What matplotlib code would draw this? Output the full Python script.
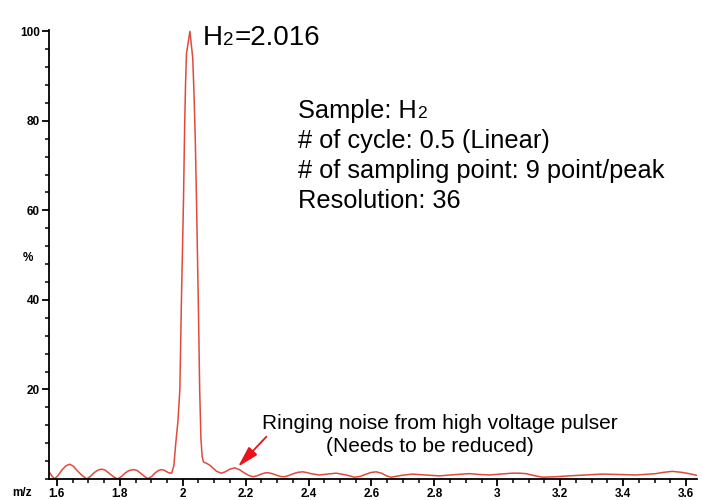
import matplotlib.pyplot as plt
from matplotlib.ticker import MultipleLocator

plt.rcParams['font.family'] = ['Liberation Sans', 'DejaVu Sans']

# spectrum (m/z, %)
mz = [1.575, 1.583, 1.592, 1.604, 1.616, 1.628, 1.640, 1.652, 1.664, 1.680,
      1.695, 1.707, 1.720, 1.731, 1.742, 1.753, 1.766, 1.780, 1.793, 1.806,
      1.818, 1.830, 1.843, 1.855, 1.868, 1.880, 1.890, 1.902, 1.913, 1.923,
      1.933, 1.943, 1.955, 1.965, 1.972, 1.978,
      1.985, 1.991, 1.996, 2.0025, 2.006, 2.009, 2.012, 2.023,
      2.032, 2.036, 2.040, 2.044, 2.047, 2.050, 2.054, 2.058, 2.062, 2.066,
      2.076, 2.088, 2.097, 2.108, 2.123, 2.135, 2.150, 2.165, 2.180, 2.195,
      2.210, 2.224, 2.236, 2.250, 2.261, 2.271, 2.285, 2.300, 2.312, 2.324,
      2.338, 2.352, 2.367, 2.382, 2.397, 2.410, 2.435, 2.460, 2.488, 2.520,
      2.546, 2.565, 2.580, 2.598, 2.615, 2.632, 2.648, 2.663, 2.695, 2.730,
      2.770, 2.816, 2.860, 2.911, 2.945, 2.975, 3.010, 3.048, 3.070, 3.091,
      3.115, 3.143, 3.185, 3.229, 3.280, 3.334, 3.390, 3.440, 3.475, 3.504,
      3.530, 3.556, 3.585, 3.610, 3.635]
pct = [1.6, 0.8, 0.0, 0.8, 2.0, 2.9, 3.3, 2.9, 1.9, 0.8,
       0.0, 0.6, 1.5, 2.0, 2.2, 2.0, 1.3, 0.5, 0.0, 0.6,
       1.4, 1.9, 2.1, 1.9, 1.2, 0.5, 0.1, 0.6, 1.4, 1.9,
       2.1, 1.9, 1.4, 1.3, 3.0, 8.0,
       13.0, 20.0, 40.0, 62.0, 78.0, 88.0, 95.0, 100.0,
       94.0, 86.0, 76.0, 62.0, 50.0, 38.0, 20.0, 9.0, 5.0, 3.8,
       3.5, 3.0, 2.4, 1.7, 1.3, 1.6, 2.2, 2.5, 2.1, 1.4,
       0.8, 0.5, 0.7, 1.1, 1.35, 1.4, 1.2, 0.8, 0.55, 0.5,
       0.8, 1.2, 1.5, 1.6, 1.4, 1.15, 0.9, 1.1, 1.3, 0.9,
       0.4, 0.6, 1.0, 1.45, 1.6, 1.3, 0.7, 0.4, 0.8, 1.1,
       0.9, 0.7, 0.95, 1.2, 1.0, 0.9, 1.1, 1.3, 1.3, 1.2,
       0.8, 0.4, 0.5, 0.7, 0.9, 1.1, 1.0, 0.9, 1.05, 1.2,
       1.5, 1.7, 1.5, 1.2, 0.8]

xticks = [1.6, 1.8, 2.0, 2.2, 2.4, 2.6, 2.8, 3.0, 3.2, 3.4, 3.6]
xlabels = ['1.6', '1.8', '2', '2.2', '2.4', '2.6', '2.8', '3', '3.2', '3.4', '3.6']
yticks = [20, 40, 60, 80, 100]

W, H = 703, 500
fig = plt.figure(figsize=(W / 100, H / 100), dpi=100)
ax = fig.add_axes([49 / W, 21 / H, 648 / W, 449 / H])
ax.plot(mz, pct, color='#e04a3c', lw=1.1)

ax.set_xlim(1.575, 3.635)
ax.set_ylim(0, 100.3)
ax.set_xticks(xticks)
ax.set_xticklabels(xlabels)
ax.set_yticks(yticks)
ax.xaxis.set_minor_locator(MultipleLocator(0.05))
ax.yaxis.set_minor_locator(MultipleLocator(4))
for s in ['top', 'right']:
    ax.spines[s].set_visible(False)
for s in ['left', 'bottom']:
    ax.spines[s].set_linewidth(1.3)
ax.tick_params(which='major', direction='out', length=5, width=1.3,
               labelsize=8.5, pad=1.5, color='black')
ax.tick_params(which='minor', direction='out', length=3.2, width=1.1, color='black')
for lab in ax.get_xticklabels() + ax.get_yticklabels():
    lab.set_fontweight('bold')


def ptext(x, y, s, **kw):
    # place text by pixel position of the reference (y from top)
    return fig.text(x / W, 1 - y / H, s, **kw)


ptext(12, 493, 'm/z', fontsize=8.5, fontweight='bold', va='center')
ptext(23, 258, '%', fontsize=8.5, fontweight='bold', va='center')

renderer = fig.canvas.get_renderer()

# H2=2.016 label, subscript drawn as a smaller digit on the baseline
h = ptext(203, 45, 'H', fontsize=20, va='baseline')
x1 = h.get_window_extent(renderer).x1
s2 = fig.text((x1 + 0.5) / W, 1 - 45 / H, '2', fontsize=13.5, va='baseline')
x2 = s2.get_window_extent(renderer).x1
fig.text((x2 + 0.5) / W, 1 - 45 / H, '=2.016', fontsize=20, va='baseline')

info = ['Sample: H', '# of cycle: 0.5 (Linear)',
        '# of sampling point: 9 point/peak', 'Resolution: 36']
for i, line in enumerate(info):
    t = ptext(298, 118 + 30 * i, line, fontsize=18.3, va='baseline')
    if i == 0:
        xs = t.get_window_extent(renderer).x1
        fig.text((xs + 0.5) / W, 1 - 118 / H, '2', fontsize=12.5, va='baseline')

ptext(262, 429, 'Ringing noise from high voltage pulser', fontsize=15, va='baseline')
ptext(326, 451.5, '(Needs to be reduced)', fontsize=15, va='baseline')
ax.annotate('', xy=(2.176, 2.75), xytext=(2.266, 9.45),
            arrowprops=dict(arrowstyle='-|>,head_length=0.8,head_width=0.22',
                            color='#e8141c', lw=1.3, mutation_scale=16,
                            shrinkA=0, shrinkB=0))

fig.savefig('out.png', dpi=100)
